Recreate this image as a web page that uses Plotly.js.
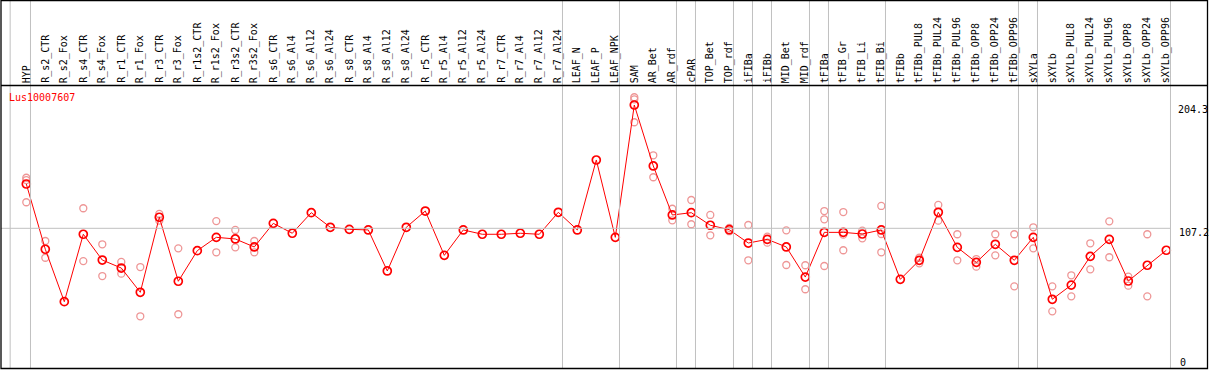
<!DOCTYPE html>
<html>
<head>
<meta charset="utf-8">
<script src="https://cdn.plot.ly/plotly-3.0.1.min.js"></script>
<style>html,body{margin:0;padding:0;background:#fff;}#chart{width:1209px;height:370px;}</style>
</head>
<body>
<div id="chart"></div>
<script>
const categories = ["HYP","R_s2_CTR","R_s2_Fox","R_s4_CTR","R_s4_Fox","R_r1_CTR","R_r1_Fox","R_r3_CTR","R_r3_Fox","R_r1s2_CTR","R_r1s2_Fox","R_r3s2_CTR","R_r3s2_Fox","R_s6_CTR","R_s6_Al4","R_s6_Al12","R_s6_Al24","R_s8_CTR","R_s8_Al4","R_s8_Al12","R_s8_Al24","R_r5_CTR","R_r5_Al4","R_r5_Al12","R_r5_Al24","R_r7_CTR","R_r7_Al4","R_r7_Al12","R_r7_Al24","LEAF_N","LEAF_P","LEAF_NPK","SAM","AR_Bet","AR_rdf","cPAR","TOP_Bet","TOP_rdf","iFIBa","iFIBb","MID_Bet","MID_rdf","tFIBa","tFIB_Gr","tFIB_Li","tFIB_Bi","tFIBb","tFIBb_PUL8","tFIBb_PUL24","tFIBb_PUL96","tFIBb_OPP8","tFIBb_OPP24","tFIBb_OPP96","sXYLa","sXYLb","sXYLb_PUL8","sXYLb_PUL24","sXYLb_PUL96","sXYLb_OPP8","sXYLb_OPP24","sXYLb_OPP96"];

const meanValues = [142.1,90.7,49.4,102.5,82.2,75.9,56.8,115.9,65.5,89.6,100.1,98.8,92.5,111.1,103.3,119.5,108.0,106.4,105.9,73.6,108.0,120.8,85.9,105.9,102.5,102.5,103.3,102.5,119.8,105.9,161.0,100.1,204.3,156.3,117.7,119.5,109.6,106.1,95.6,98.5,92.5,68.8,104.0,104.0,102.7,105.9,67.0,82.0,119.8,92.2,80.4,94.6,82.0,100.1,51.3,62.5,85.1,98.5,65.7,78.1,89.9];

const rep1 = [147.0,97.2,null,123.0,94.6,80.7,76.7,118.5,91.4,null,112.9,105.9,97.2,null,null,null,null,null,null,null,null,null,null,null,null,null,null,null,null,null,null,null,210.4,164.7,122.6,129.5,117.7,107.5,109.8,100.6,105.6,78.1,120.8,120.0,105.3,124.8,null,84.0,125.6,102.5,83.0,102.5,102.5,108.0,61.5,70.2,95.4,112.7,69.1,102.5,null];
const rep2 = [127.7,84.0,null,81.4,69.6,71.5,37.9,113.2,39.5,null,88.3,92.2,88.3,null,null,null,null,null,null,null,null,null,null,null,null,null,null,null,null,null,null,null,190.7,147.4,113.5,110.4,101.7,104.9,82.0,95.9,78.3,59.2,77.5,89.9,99.3,88.3,null,79.6,113.2,82.0,77.0,85.9,61.5,91.4,41.8,53.6,74.9,84.4,62.0,53.6,null];
const rep3 = [145.2,null,null,null,null,null,null,null,null,null,null,null,null,null,null,null,null,null,null,null,null,null,null,null,null,null,null,null,null,null,null,null,208.8,null,null,null,null,null,null,null,null,null,114.3,102.2,null,102.7,null,null,null,null,null,null,null,null,null,null,null,null,null,null,null];

const groupEnds = ["HYP","R_r7_Al24","LEAF_NPK","AR_rdf","cPAR","TOP_rdf","iFIBa","iFIBb","MID_rdf","tFIBa","tFIB_Bi","tFIBb_OPP96","sXYLa","sXYLb_OPP96"];
const yTickVals = [204.3, 107.2, 0];
const yTickText = ["204.3", "107.2", "0"];
const geneName = "Lus10007607";

const W = 1209, H = 370;
const px = v => v / W;
const py = v => 1 - v / H;
const FONT = "DejaVu Sans Mono";

const repX = [], repY = [];
[rep1, rep2, rep3].forEach(r => r.forEach((v, i) => { if (v !== null) { repX.push(categories[i]); repY.push(v); } }));

const traces = [
  {type: "scatter", mode: "markers", x: repX, y: repY, hoverinfo: "skip",
   marker: {symbol: "circle-open", size: 7, color: "rgb(238,150,150)", line: {width: 1.3, color: "rgb(238,150,150)"}}},
  {type: "scatter", mode: "lines+markers", x: categories, y: meanValues,
   line: {color: "#ff0000", width: 1},
   marker: {symbol: "circle-open", size: 8, color: "#ff0000", line: {width: 1.7, color: "#e80000"}}}
];

const shapes = [];
const OFF = 0.22;
shapes.push({type: "line", xref: "x", yref: "paper", x0: -1 + 0.15, x1: -1 + 0.15, y0: py(368.5), y1: 1, line: {color: "#c0c0c0", width: 1}});
groupEnds.forEach(c => {
  const i = categories.indexOf(c);
  shapes.push({type: "line", xref: "x", yref: "paper", x0: i + OFF, x1: i + OFF, y0: py(368.5), y1: 1, line: {color: "#c0c0c0", width: 1}});
});
shapes.push({type: "line", xref: "paper", yref: "y", x0: px(1), x1: px(1170), y0: yTickVals[1], y1: yTickVals[1], line: {color: "#c0c0c0", width: 1}});
shapes.push({type: "line", xref: "paper", yref: "paper", x0: px(1), x1: px(1207.5), y0: py(85.5), y1: py(85.5), line: {color: "#000", width: 1.3}});
shapes.push({type: "rect", xref: "paper", yref: "paper", x0: px(1), x1: px(1207.5), y0: py(368.5), y1: py(0.5), line: {color: "#000", width: 1.3}});

const annotations = [];
categories.forEach(c => {
  annotations.push({x: c, xref: "x", y: py(84), yref: "paper", text: c, showarrow: false, textangle: -90,
    xanchor: "center", yanchor: "bottom", font: {family: FONT, size: 10, color: "#000"}, borderpad: 0});
});
annotations.push({x: px(8), xref: "paper", y: py(97), yref: "paper", text: geneName, showarrow: false,
  xanchor: "left", yanchor: "middle", font: {family: FONT, size: 10, color: "#ff0000"}, borderpad: 0});
const labelTops = [103.5, 226, 356];
const labelLefts = [1177, 1178, 1179];
yTickText.forEach((t, k) => {
  annotations.push({x: px(labelLefts[k]), xref: "paper", y: py(labelTops[k]), yref: "paper", text: t, showarrow: false,
    xanchor: "left", yanchor: "top", font: {family: FONT, size: 10, color: "#000"}, borderpad: 0});
});

const xStep = 19, x0px = 26.3;
const yScale = 1.2698, yRefPx = 228.3;
const layout = {
  width: W, height: H,
  margin: {l: 0, r: 0, t: 0, b: 0, pad: 0},
  paper_bgcolor: "#fff", plot_bgcolor: "#fff",
  showlegend: false,
  xaxis: {type: "category", categoryarray: categories, categoryorder: "array",
    range: [-x0px / xStep, (W - x0px) / xStep], showgrid: false, zeroline: false, showticklabels: false, ticks: "", showline: false, fixedrange: true},
  yaxis: {range: [yTickVals[1] - (H - yRefPx) / yScale, yTickVals[1] + yRefPx / yScale], showgrid: false, zeroline: false,
    showticklabels: false, ticks: "", showline: false, fixedrange: true},
  shapes: shapes,
  annotations: annotations
};

Plotly.newPlot("chart", traces, layout, {displayModeBar: false, staticPlot: true});
</script>
</body>
</html>
